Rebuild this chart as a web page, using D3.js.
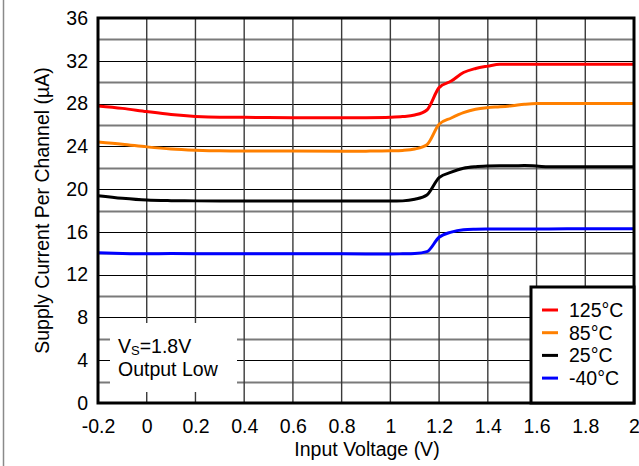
<!DOCTYPE html>
<html>
<head>
<meta charset="utf-8">
<script src="https://cdn.jsdelivr.net/npm/d3@7"></script>
<style>
  html, body { margin: 0; padding: 0; background: #fff; }
  svg { display: block; font-family: Arial, "Liberation Sans", Helvetica, sans-serif; }
</style>
</head>
<body>
<svg id="chart" width="639" height="466"></svg>
<script>
// Input voltage sample points (V)
const inputVoltage = [-0.2, -0.1, 0, 0.1, 0.2, 0.3, 0.4, 0.6, 0.8, 0.9, 1.0, 1.05, 1.1, 1.15, 1.2, 1.25, 1.3, 1.35, 1.4, 1.45, 1.5, 1.55, 1.6, 1.65, 1.8, 2.0];

// Supply current per channel (uA) at each temperature
const current125C = [27.78, 27.55, 27.25, 26.98, 26.8, 26.72, 26.71, 26.68, 26.67, 26.68, 26.72, 26.78, 26.93, 27.4, 29.49, 30.1, 30.9, 31.28, 31.5, 31.68, 31.68, 31.68, 31.68, 31.68, 31.68, 31.68];
const current85C  = [24.4, 24.2, 23.95, 23.75, 23.64, 23.58, 23.57, 23.56, 23.54, 23.55, 23.58, 23.62, 23.75, 24.15, 26.06, 26.65, 27.15, 27.47, 27.62, 27.7, 27.8, 27.93, 28.0, 28.0, 28.0, 28.0];
const current25C  = [19.39, 19.15, 18.98, 18.92, 18.9, 18.9, 18.9, 18.9, 18.88, 18.88, 18.88, 18.9, 19.05, 19.45, 21.07, 21.58, 21.95, 22.1, 22.16, 22.18, 22.18, 22.2, 22.16, 22.08, 22.08, 22.08];
const currentM40C = [14.05, 13.99, 13.96, 13.97, 13.96, 13.96, 13.96, 13.96, 13.95, 13.94, 13.93, 13.95, 13.98, 14.15, 15.5, 15.98, 16.2, 16.25, 16.27, 16.28, 16.28, 16.28, 16.28, 16.28, 16.3, 16.3];

const seriesNames  = ["125°C", "85°C", "25°C", "-40°C"];
const seriesColors = ["#ff0000", "#ff8000", "#000000", "#0000ff"];
const seriesValues = [current125C, current85C, current25C, currentM40C];

const xTicks = [-0.2, 0, 0.2, 0.4, 0.6, 0.8, 1, 1.2, 1.4, 1.6, 1.8, 2];
const yTicks = [0, 4, 8, 12, 16, 20, 24, 28, 32, 36];
const yGrid  = d3.range(0, 37, 2);

const FONT = 19.5;
const svg = d3.select("#chart");
const plot = { left: 98, right: 634, top: 18, bottom: 403 };

const x = d3.scaleLinear().domain([-0.2, 2]).range([plot.left, plot.right]);
const y = d3.scaleLinear().domain([0, 36]).range([plot.bottom, plot.top]);

// Page frame line at the left edge
svg.append("line")
  .attr("x1", 3.5).attr("x2", 3.5).attr("y1", 0).attr("y2", 466)
  .attr("stroke", "#8a8a8a").attr("stroke-width", 1.5);

// Grid
const grid = svg.append("g");
grid.selectAll("line.h").data(yGrid).join("line")
  .attr("class", "h")
  .attr("x1", plot.left).attr("x2", plot.right)
  .attr("y1", d => Math.round(y(d)) + 0.5).attr("y2", d => Math.round(y(d)) + 0.5)
  .attr("stroke", d => d % 4 === 0 ? "#000" : "#7a7a7a")
  .attr("stroke-width", d => d % 4 === 0 ? 1 : 1.8);
grid.selectAll("line.v").data(d3.range(-0.2, 2.01, 0.2)).join("line")
  .attr("class", "v")
  .attr("x1", d => x(d)).attr("x2", d => x(d))
  .attr("y1", plot.top).attr("y2", plot.bottom)
  .attr("stroke", "#3a3a3a").attr("stroke-width", 1.4);

// Condition note with white backing
svg.append("rect")
  .attr("x", 110).attr("y", 323).attr("width", 127).attr("height", 69)
  .attr("fill", "#fff");
const note = svg.append("text").attr("x", 118).attr("y", 353)
  .attr("font-size", FONT).attr("fill", "#000");
note.append("tspan").text("V");
note.append("tspan").attr("font-size", 13).attr("dy", 2).text("S");
note.append("tspan").attr("dy", -2).text("=1.8V");
svg.append("text").attr("x", 118).attr("y", 376)
  .attr("font-size", FONT).attr("fill", "#000").text("Output Low");

// Curves
const line = d3.line()
  .x((d, i) => x(inputVoltage[i]))
  .y(d => y(d))
  .curve(d3.curveMonotoneX);

svg.append("g").selectAll("path").data(seriesValues).join("path")
  .attr("d", d => line(d))
  .attr("fill", "none")
  .attr("stroke", (d, i) => seriesColors[i])
  .attr("stroke-width", 3)
  .attr("stroke-linejoin", "round");

// Plot border
svg.append("rect")
  .attr("x", plot.left).attr("y", plot.top)
  .attr("width", plot.right - plot.left).attr("height", plot.bottom - plot.top)
  .attr("fill", "none").attr("stroke", "#000").attr("stroke-width", 3);

// Axes (labels only; ticks drawn by grid)
const xAxis = d3.axisBottom(x).tickValues(xTicks).tickSize(0).tickPadding(16)
  .tickFormat(d => String(+d.toFixed(1)));
const gx = svg.append("g").attr("transform", `translate(0,${plot.bottom})`).call(xAxis);
gx.select(".domain").remove();
gx.selectAll("text").attr("font-size", FONT).attr("font-family", null).attr("fill", "#000");

const yAxis = d3.axisLeft(y).tickValues(yTicks).tickSize(0).tickPadding(10);
const gy = svg.append("g").attr("transform", `translate(${plot.left},0)`).call(yAxis);
gy.select(".domain").remove();
gy.selectAll("text").attr("font-size", FONT).attr("font-family", null).attr("fill", "#000");

// Axis titles
svg.append("text")
  .attr("x", 367).attr("y", 456)
  .attr("text-anchor", "middle").attr("font-size", FONT).text("Input Voltage (V)");
svg.append("text")
  .attr("transform", `translate(49,${(plot.top + plot.bottom) / 2}) rotate(-90)`)
  .attr("text-anchor", "middle").attr("font-size", FONT).text("Supply Current Per Channel (µA)");

// Legend
const legend = svg.append("g");
legend.append("rect")
  .attr("x", 531).attr("y", 287).attr("width", 103).attr("height", 116)
  .attr("fill", "#fff").attr("stroke", "#000").attr("stroke-width", 3);
const rows = legend.selectAll("g.row").data(seriesNames).join("g")
  .attr("class", "row")
  .attr("transform", (d, i) => `translate(0,${310 + i * 22.7})`);
rows.append("line")
  .attr("x1", 542).attr("x2", 558).attr("y1", 0).attr("y2", 0)
  .attr("stroke", (d, i) => seriesColors[i]).attr("stroke-width", 3);
rows.append("text")
  .attr("x", 569).attr("y", 7).attr("font-size", FONT).text(d => d);
</script>
</body>
</html>
